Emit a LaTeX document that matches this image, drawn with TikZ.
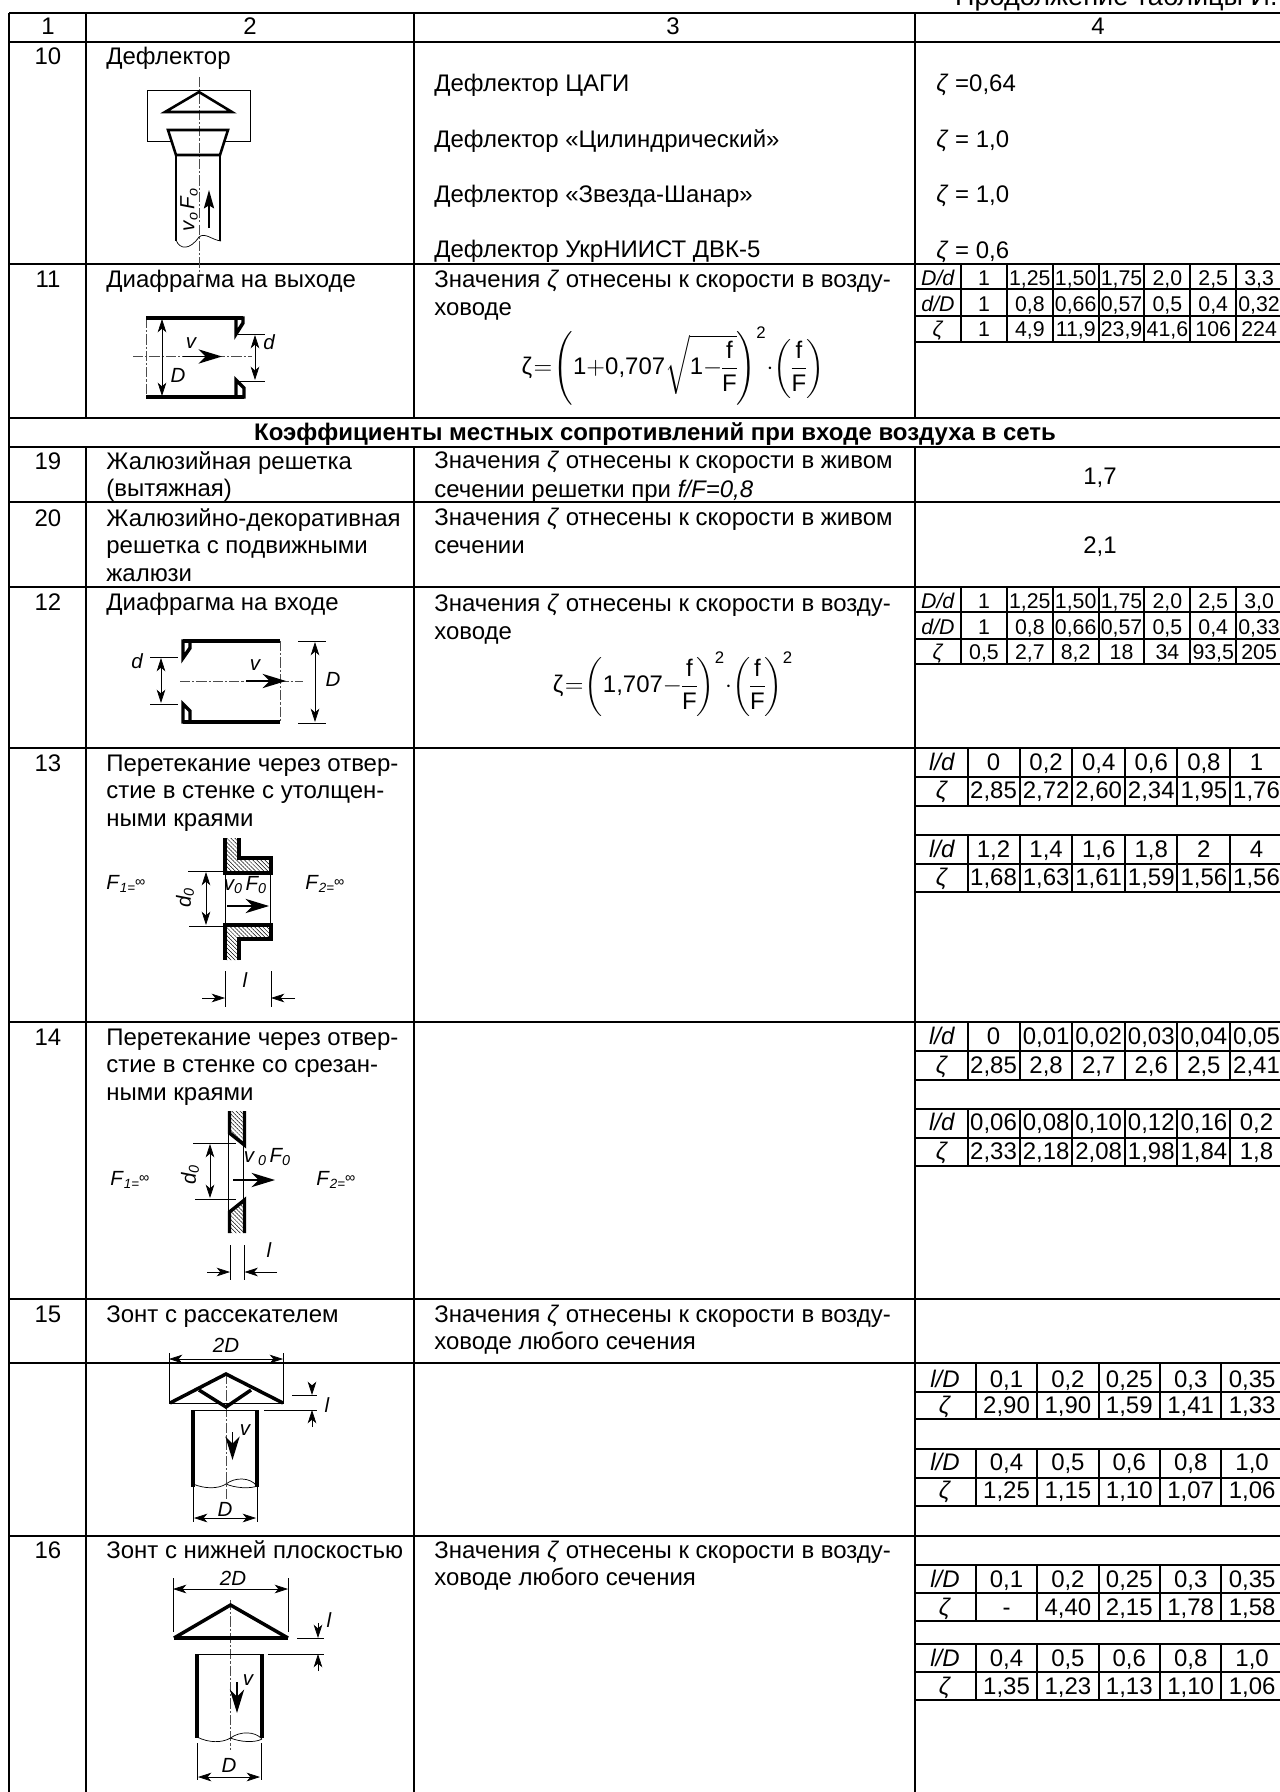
\documentclass[tikz,border=0pt]{standalone}
\usepackage{amsmath}
\usepackage{fontspec}
\setmainfont{Liberation Sans}
\usetikzlibrary{arrows.meta,patterns.meta}
\tikzset{
  >={Stealth[length=6.5pt,width=4.2pt,inset=1.8pt]},
  gridline/.style={line width=0.75pt},
  subline/.style={line width=0.6pt},
  wall/.style={line width=1.25pt},
  wallb/.style={line width=1.7pt},
  thinline/.style={line width=0.35pt},
  dimline/.style={line width=0.35pt},
  flow/.style={line width=0.8pt,-{Stealth[length=11.5pt,width=7pt,inset=3.5pt]}},
  flowsmall/.style={line width=0.8pt,-{Stealth[length=9pt,width=5pt,inset=1.5pt]}},
  axisline/.style={line width=0.3pt,black!70,dash pattern=on 5pt off 1pt on 1pt off 1pt},
  hatch/.style={pattern={Lines[angle=-45,distance=1.4pt,line width=0.25pt]}},
  txt/.style={anchor=base west,inner sep=0pt},
  mid/.style={anchor=base,inner sep=0pt},
  midsmall/.style={mid,font=\fontsize{10.4}{12}\selectfont},
  lbl/.style={inner sep=0pt,font=\fontsize{10}{11}\selectfont\itshape},
  formula/.style={inner sep=0pt,execute at begin node={\thinmuskip=0mu\medmuskip=0mu\thickmuskip=1mu\nulldelimiterspace=0pt}},
}
\newcommand{\zt}{\textit{ζ}}
\newcommand{\frc}{\dfrac{\text{f}}{\text{F}}}
\newcommand{\fsub}[1]{\textit{F}\raisebox{-1.5pt}{\fontsize{6.5}{7}\selectfont\textit{#1=}}\raisebox{1pt}{\fontsize{7}{7}\selectfont ∞}}
\newcommand{\cellsA}[4]{
  \node[midsmall] (#1h) at (938,#2) {#3};
  \foreach \val [count=\k] in {#4} {\node[midsmall] (#1c\k) at ({984+45.85*(\k-1)},#2) {\val};}
}
\newcommand{\cellsB}[4]{
  \node[mid] (#1h) at (942,#2) {#3};
  \foreach \val [count=\k] in {#4} {\node[mid] (#1c\k) at ({993.5+52.6*(\k-1)},#2) {\val};}
}
\newcommand{\cellsC}[4]{
  \node[mid] (#1h) at (945,#2) {#3};
  \foreach \val [count=\k] in {#4} {\node[mid] (#1c\k) at ({1006.5+61.4*(\k-1)},#2) {\val};}
}
\begin{document}
\begin{tikzpicture}[x=0.488pt,y=-0.488pt,font=\fontsize{11.7}{15}\selectfont]
\useasboundingbox (0,0) rectangle (1280,1792);
\foreach \y in {13,42,264,418,447,502,587,748,1022,1299,1363,1536}
  \draw[gridline] (9,\y) -- (1280,\y);
\foreach \x in {9,86,414,915} {
  \draw[gridline] (\x,13) -- (\x,418);
  \draw[gridline] (\x,447) -- (\x,1792);
}
\draw[gridline] (9,418) -- (9,447);

\foreach \y in {289,316,342,612,639,664,777,806,835,864,892,1051,1080,1109,1138,1166,1392,1419,1449,1478,1506,1565,1593,1621,1644,1672,1700}
  \draw[subline] (915,\y) -- (1280,\y);
\foreach \x in {961,1007,1053,1099,1144,1190,1236} {
  \draw[subline] (\x,264) -- (\x,342);
  \draw[subline] (\x,587) -- (\x,664);
}
\foreach \x in {968,1020,1072,1125,1177,1230} {
  \draw[subline] (\x,748) -- (\x,806);
  \draw[subline] (\x,835) -- (\x,892);
  \draw[subline] (\x,1022) -- (\x,1080);
  \draw[subline] (\x,1109) -- (\x,1166);
}
\foreach \x in {976,1037,1099,1160,1221} {
  \draw[subline] (\x,1363) -- (\x,1419);
  \draw[subline] (\x,1449) -- (\x,1506);
  \draw[subline] (\x,1565) -- (\x,1621);
  \draw[subline] (\x,1644) -- (\x,1700);
}

\node[anchor=base east,inner sep=0pt,font=\fontsize{13.2}{15}\selectfont] (cont) at (1278,6) {Продолжение таблицы И.};
\node[mid] (h1) at (48,35) {1};
\node[mid] (h2) at (250,35) {2};
\node[mid] (h3) at (673,35) {3};
\node[mid] (h4) at (1098,35) {4};

\foreach \num/\y in {10/65,11/287,19/469,20/526,12/610,13/771,14/1045,15/1322,16/1558}
  \node[mid] (n\num) at (48,\y) {\num};

\node[txt] (t10) at (106,65) {Дефлектор};
\node[txt] (t11) at (106,287) {Диафрагма на выходе};
\node[mid] (head) at (655,440) {\bfseries Коэффициенты местных сопротивлений при входе воздуха в сеть};
\node[txt] (t19a) at (106,469) {Жалюзийная решетка};
\node[txt] (t19b) at (106,496) {(вытяжная)};
\node[txt] (t20a) at (106,526) {Жалюзийно-декоративная};
\node[txt] (t20b) at (106,553) {решетка с подвижными};
\node[txt] (t20c) at (106,581) {жалюзи};
\node[txt] (t12) at (106,610) {Диафрагма на входе};
\node[txt] (t13a) at (106,771) {Перетекание через отвер-};
\node[txt] (t13b) at (106,798) {стие в стенке с утолщен-};
\node[txt] (t13c) at (106,826) {ными краями};
\node[txt] (t14a) at (106,1045) {Перетекание через отвер-};
\node[txt] (t14b) at (106,1072) {стие в стенке со срезан-};
\node[txt] (t14c) at (106,1100) {ными краями};
\node[txt] (t15) at (106,1322) {Зонт с рассекателем};
\node[txt] (t16) at (106,1558) {Зонт с нижней плоскостью};

\node[txt] (d1) at (434,92) {Дефлектор ЦАГИ};
\node[txt] (d2) at (434,148) {Дефлектор «Цилиндрический»};
\node[txt] (d3) at (434,202) {Дефлектор «Звезда-Шанар»};
\node[txt] (d4) at (434,257) {Дефлектор УкрНИИСТ ДВК-5};
\node[txt] (s11a) at (434,287) {Значения \zt{} отнесены к скорости в возду-};
\node[txt] (s11b) at (434,315) {ховоде};
\node[formula] (f11) at (673,366) {$\text{ζ}=\left(\text{1}+\text{0,707}\sqrt{\text{1}-\frc}\right)^{\!\text{2}}\cdot\left(\frc\right)$};
\node[txt] (s19a) at (434,468) {Значения \zt{} отнесены к скорости в живом};
\node[txt] (s19b) at (434,497) {сечении решетки при \textit{f/F=0,8}};
\node[txt] (s20a) at (434,525) {Значения \zt{} отнесены к скорости в живом};
\node[txt] (s20b) at (434,553) {сечении};
\node[txt] (s12a) at (434,611) {Значения \zt{} отнесены к скорости в возду-};
\node[txt] (s12b) at (434,639) {ховоде};
\node[formula] (f12) at (673,684) {$\text{ζ}=\left(\text{1,707}-\frc\right)^{\!\text{2}}\cdot\left(\frc\right)^{\!\text{2}}$};
\node[txt] (s15a) at (434,1322) {Значения \zt{} отнесены к скорости в возду-};
\node[txt] (s15b) at (434,1349) {ховоде любого сечения};
\node[txt] (s16a) at (434,1558) {Значения \zt{} отнесены к скорости в возду-};
\node[txt] (s16b) at (434,1585) {ховоде любого сечения};

\node[txt] (z1) at (936,92) {\zt{} =0,64};
\node[txt] (z2) at (936,148) {\zt{} = 1,0};
\node[txt] (z3) at (936,202) {\zt{} = 1,0};
\node[txt] (z4) at (936,258) {\zt{} = 0,6};
\node[mid] (v19) at (1100,484) {1,7};
\node[mid] (v20) at (1100,553) {2,1};

\cellsA{a1}{285}{\textit{D/d}}{1,{1,25},{1,50},{1,75},{2,0},{2,5},{3,3}}
\cellsA{a2}{311}{\textit{d/D}}{1,{0,8},{0,66},{0,57},{0,5},{0,4},{0,32}}
\cellsA{a3}{336}{\zt}{1,{4,9},{11,9},{23,9},{41,6},106,224}
\cellsA{b1}{608}{\textit{D/d}}{1,{1,25},{1,50},{1,75},{2,0},{2,5},{3,0}}
\cellsA{b2}{634}{\textit{d/D}}{1,{0,8},{0,66},{0,57},{0,5},{0,4},{0,33}}
\cellsA{b3}{659}{\zt}{{0,5},{2,7},{8,2},18,34,{93,5},205}
\cellsB{c1}{770}{\textit{l/d}}{0,{0,2},{0,4},{0,6},{0,8},1}
\cellsB{c2}{798}{\zt}{{2,85},{2,72},{2,60},{2,34},{1,95},{1,76}}
\cellsB{c3}{857}{\textit{l/d}}{{1,2},{1,4},{1,6},{1,8},2,4}
\cellsB{c4}{885}{\zt}{{1,68},{1,63},{1,61},{1,59},{1,56},{1,56}}
\cellsB{e1}{1044}{\textit{l/d}}{0,{0,01},{0,02},{0,03},{0,04},{0,05}}
\cellsB{e2}{1073}{\zt}{{2,85},{2,8},{2,7},{2,6},{2,5},{2,41}}
\cellsB{e3}{1130}{\textit{l/d}}{{0,06},{0,08},{0,10},{0,12},{0,16},{0,2}}
\cellsB{e4}{1159}{\zt}{{2,33},{2,18},{2,08},{1,98},{1,84},{1,8}}
\cellsC{g1}{1387}{\textit{l/D}}{{0,1},{0,2},{0,25},{0,3},{0,35}}
\cellsC{g2}{1413}{\zt}{{2,90},{1,90},{1,59},{1,41},{1,33}}
\cellsC{g3}{1470}{\textit{l/D}}{{0,4},{0,5},{0,6},{0,8},{1,0}}
\cellsC{g4}{1498}{\zt}{{1,25},{1,15},{1,10},{1,07},{1,06}}
\cellsC{k1}{1587}{\textit{l/D}}{{0,1},{0,2},{0,25},{0,3},{0,35}}
\cellsC{k2}{1615}{\zt}{-,{4,40},{2,15},{1,78},{1,58}}
\cellsC{k3}{1666}{\textit{l/D}}{{0,4},{0,5},{0,6},{0,8},{1,0}}
\cellsC{k4}{1694}{\zt}{{1,35},{1,23},{1,13},{1,10},{1,06}}

\draw[axisline] (199,77) -- (199,275);
\draw[thinline] (171,141) -- (147,141) -- (147,90) -- (250,90) -- (250,141) -- (225,141);
\draw[wall,line join=miter] (165,112) -- (199,92) -- (232,112) -- cycle;
\draw[wall] (168,130) -- (228,130) -- (220,155) -- (176,155) -- cycle;
\draw[wall] (176,155) -- (176,241);
\draw[wall] (220,155) -- (220,241);
\draw[thinline] (176,240) .. controls (180,250) and (190,250) .. (199,237) .. controls (205,232) and (212,240) .. (221,241);
\node[lbl,rotate=90,anchor=center] (v10) at (189,210) {v\raisebox{-1.5pt}{\fontsize{7}{7}\selectfont o}\,F\raisebox{-1.5pt}{\fontsize{7}{7}\selectfont o}};
\draw[flowsmall] (209,228) -- (209,190);

\draw[axisline] (133,356.5) -- (252,356.5);
\draw[axisline] (146,318) -- (146,397);
\draw[wallb] (146,318) -- (243,318);
\draw[wallb] (146,397) -- (244,397);
\draw[wallb,line join=miter] (236,318) -- (243,318) -- (243,323) -- (236,334) -- cycle;
\draw[wallb,line join=miter] (236,380) -- (244,388) -- (244,397) -- (236,397) -- cycle;
\draw[dimline,<->] (162,319) -- (162,396);
\draw[dimline,<->] (255,335) -- (255,380);
\draw[thinline] (238,334) -- (265,334);
\draw[thinline] (238,381) -- (265,381);
\draw[flow] (183,356.5) -- (222,356.5);
\node[lbl] (v11) at (191,343) {v};
\node[lbl] (D11) at (178,375) {D};
\node[lbl] (d11) at (269,342) {d};

\draw[axisline] (180,681) -- (303,681);
\draw[axisline] (280,641) -- (280,722);
\draw[wallb] (183,641) -- (280,641);
\draw[wallb] (183,722) -- (280,722);
\draw[wallb,line join=miter] (183,641) -- (190,641) -- (190,648) -- (183,658) -- cycle;
\draw[wallb,line join=miter] (183,704) -- (190,711) -- (190,722) -- (183,722) -- cycle;
\draw[dimline,<->] (161,658) -- (161,703);
\draw[dimline,<->] (315,642) -- (315,722);
\draw[thinline] (150,657) -- (178,657);
\draw[thinline] (150,704) -- (178,704);
\draw[thinline] (298,641) -- (326,641);
\draw[thinline] (298,723) -- (326,723);
\draw[flow] (246,681) -- (286,681);
\node[lbl] (v12) at (255,665) {v};
\node[lbl] (d12) at (137,661) {d};
\node[lbl] (D12) at (333,679) {D};

\fill[hatch] (225,838) -- (239,838) -- (239,858) -- (271,858) -- (271,873) -- (225,873) -- cycle;
\fill[hatch] (225,925) -- (271,925) -- (271,939) -- (239,939) -- (239,960) -- (225,960) -- cycle;
\draw[wallb,line join=miter] (239,838) -- (239,858) -- (271,858) -- (271,873) -- (225,873) -- (225,838);
\draw[wallb,line join=miter] (239,960) -- (239,939) -- (271,939) -- (271,925) -- (225,925) -- (225,960);
\draw[thinline] (225,873) -- (225,925);
\draw[thinline] (270,873) -- (270,925);
\draw[thinline] (188,871) -- (225,871);
\draw[thinline] (189,926) -- (225,926);
\draw[dimline,<->] (206,872) -- (206,925);
\node[lbl,rotate=90] (d13) at (185,898) {d\raisebox{-1.5pt}{\fontsize{7}{7}\selectfont 0}};
\node[lbl] (v13) at (245,885) {v\raisebox{-1.5pt}{\fontsize{7}{7}\selectfont 0}\,F\raisebox{-1.5pt}{\fontsize{7}{7}\selectfont 0}};
\draw[flow,line width=0.55pt] (227,906) -- (269,906);
\node[txt] (fa13) at (106,889) {\fontsize{10}{11}\selectfont\fsub{1}};
\node[txt] (fb13) at (305,889) {\fontsize{10}{11}\selectfont\fsub{2}};
\draw[thinline] (225,971) -- (225,1007);
\draw[thinline] (271,971) -- (271,1007);
\draw[dimline,->] (202,998) -- (225,998);
\draw[dimline,->] (295,998) -- (271,998);
\node[lbl] (l13) at (245,980) {l};

\fill[hatch] (229.5,1111) -- (244.5,1111) -- (244.5,1145) -- (229.5,1133) -- cycle;
\fill[hatch] (244.5,1200) -- (244.5,1233) -- (229.5,1233) -- (229.5,1212) -- cycle;
\draw[wallb] (229.5,1111) -- (229.5,1133) -- (244.5,1145) -- (244.5,1111);
\draw[wallb] (229.5,1233) -- (229.5,1212) -- (244.5,1200) -- (244.5,1233);
\draw[thinline] (228,1133) -- (228,1212);
\draw[thinline] (243,1145) -- (243,1200);
\draw[thinline] (193,1143) -- (236,1143);
\draw[thinline] (195,1199) -- (236,1199);
\draw[dimline,<->] (210,1144) -- (210,1198);
\node[lbl,rotate=90] (d14) at (190,1175) {d\raisebox{-1.5pt}{\fontsize{7}{7}\selectfont 0}};
\node[lbl] (v14) at (267,1157) {v\raisebox{-1.5pt}{\fontsize{7}{7}\selectfont\ 0}\,F\raisebox{-1.5pt}{\fontsize{7}{7}\selectfont 0}};
\draw[flow] (233,1180) -- (275,1180);
\node[txt] (fa14) at (110,1185) {\fontsize{10}{11}\selectfont\fsub{1}};
\node[txt] (fb14) at (316,1185) {\fontsize{10}{11}\selectfont\fsub{2}};
\draw[thinline] (230,1245) -- (230,1280);
\draw[thinline] (244.5,1245) -- (244.5,1280);
\draw[dimline,->] (207,1272) -- (230,1272);
\draw[dimline,->] (277,1272) -- (244.5,1272);
\node[lbl] (l14) at (269,1250) {l};

\node[lbl] (a15) at (226,1345) {2D};
\draw[dimline,<->] (169,1359) -- (283,1359);
\draw[thinline] (169,1353) -- (169,1404);
\draw[thinline] (283,1353) -- (283,1404);
\draw[axisline] (226,1374) -- (226,1500);
\draw[thinline] (170,1403) -- (283,1403);
\draw[wallb] (170,1403) -- (226,1374) -- (283,1403);
\draw[wallb] (199,1390) -- (226,1407) -- (251,1390);
\draw[wallb] (193,1410) -- (193,1487);
\draw[wallb] (257,1410) -- (257,1487);
\draw[thinline] (193,1410) -- (257,1410);
\draw[thinline] (264,1410) -- (317,1410);
\draw[thinline] (292,1395) -- (317,1395);
\draw[dimline,->] (312,1385) -- (312,1395);
\draw[dimline,->] (312,1427) -- (312,1410);
\node[lbl] (l15) at (327,1405) {l};
\draw[flow] (232.5,1432) -- (232.5,1460);
\node[lbl] (v15) at (245,1430) {v};
\draw[thinline] (193,1484) .. controls (205,1489) and (218,1489) .. (226,1484) .. controls (235,1477) and (250,1477) .. (257,1486);
\draw[thinline] (226,1484) .. controls (235,1488) and (250,1489) .. (257,1486);
\draw[thinline] (193,1487) -- (193,1522);
\draw[thinline] (257,1487) -- (257,1522);
\draw[dimline,<->] (194,1518) -- (256,1518);
\node[lbl] (D15) at (225,1509) {D};

\node[lbl] (a16) at (233,1578) {2D};
\draw[dimline,<->] (173,1589) -- (288,1589);
\draw[thinline] (173,1578) -- (173,1632);
\draw[thinline] (288,1578) -- (288,1632);
\draw[axisline] (230.5,1600) -- (230.5,1750);
\draw[wallb] (174,1638) -- (230.5,1605) -- (288,1638);
\draw[wallb] (174,1638) -- (288,1638);
\draw[wallb] (197,1654) -- (197,1738);
\draw[wallb] (262,1654) -- (262,1738);
\draw[thinline] (197,1654) -- (262,1654);
\draw[thinline] (268,1654) -- (324,1654);
\draw[thinline] (297,1638) -- (324,1638);
\draw[dimline,->] (318,1623) -- (318,1638);
\draw[dimline,->] (318,1671) -- (318,1654);
\node[lbl] (l16) at (329,1620) {l};
\draw[flow] (237,1682) -- (237,1713);
\node[lbl] (v16) at (248,1680) {v};
\draw[thinline] (197,1737) .. controls (209,1743) and (222,1743) .. (230.5,1738) .. controls (240,1731) and (255,1731) .. (262,1739);
\draw[thinline] (230.5,1738) .. controls (240,1742) and (255,1743) .. (262,1739);
\draw[thinline] (197,1743) -- (197,1780);
\draw[thinline] (261,1743) -- (261,1780);
\draw[dimline,<->] (198,1777) -- (260,1777);
\node[lbl] (D16) at (229,1765) {D};
\end{tikzpicture}
\end{document}
